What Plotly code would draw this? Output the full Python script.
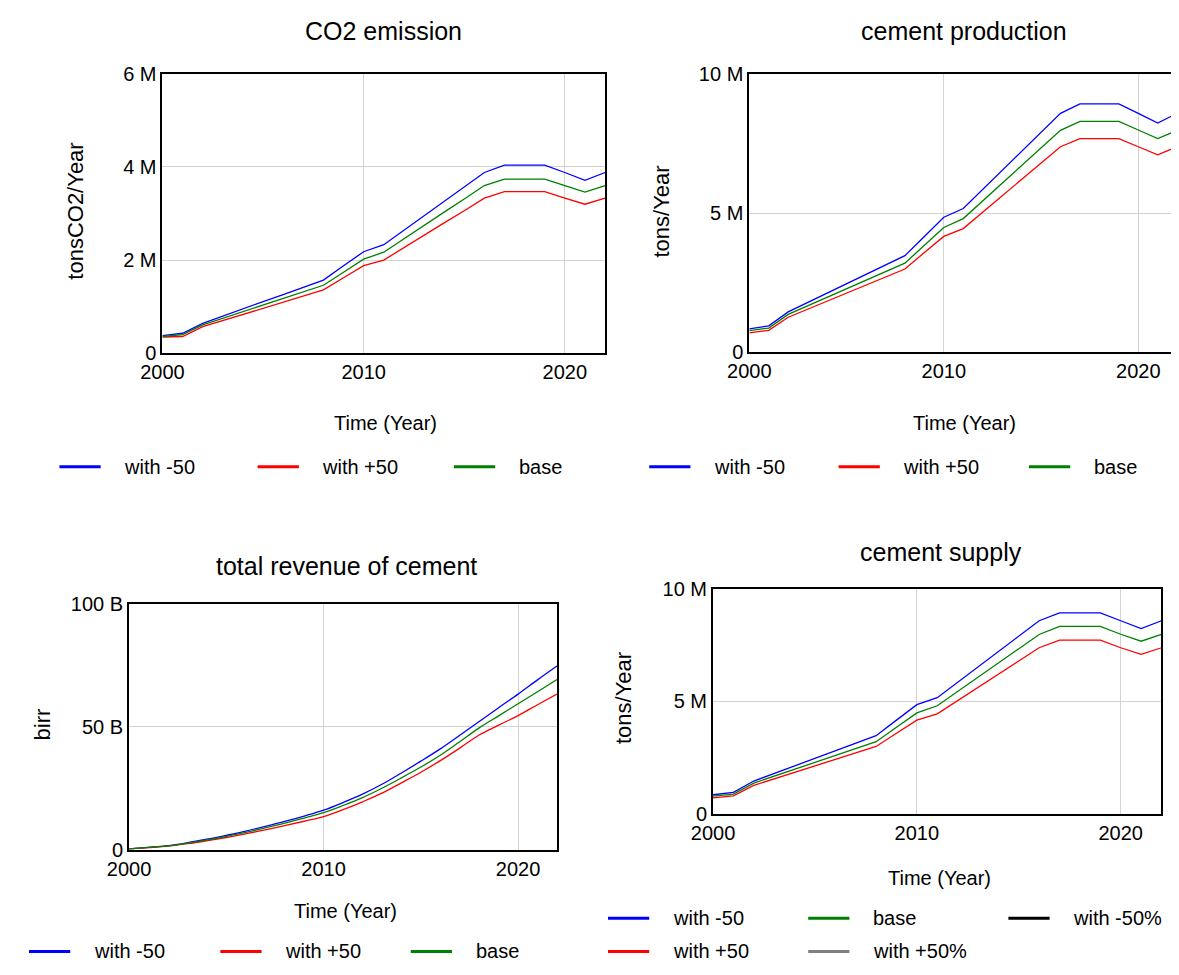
import plotly.graph_objects as go

W, H = 1179, 975
PAGE_OFFSET = 8  # default body margin of the html page

years = list(range(2000, 2023))

# CO2 emission (million tonsCO2/Year)
co2_minus50 = [0.38, 0.43, 0.64, 0.80, 0.95, 1.11, 1.26, 1.42, 1.57, 1.88, 2.18, 2.33, 2.64, 2.95, 3.26, 3.57, 3.88, 4.04, 4.04, 4.04, 3.88, 3.71, 3.88]
co2_base = [0.36, 0.40, 0.61, 0.75, 0.89, 1.03, 1.17, 1.32, 1.46, 1.74, 2.02, 2.17, 2.46, 2.74, 3.03, 3.31, 3.60, 3.74, 3.74, 3.74, 3.60, 3.46, 3.60]
co2_plus50 = [0.35, 0.36, 0.57, 0.70, 0.83, 0.96, 1.10, 1.23, 1.36, 1.62, 1.88, 2.00, 2.27, 2.53, 2.80, 3.06, 3.33, 3.47, 3.47, 3.47, 3.33, 3.20, 3.33]

# cement production (million tons/Year)
prod_minus50 = [0.84, 0.95, 1.45, 1.79, 2.12, 2.46, 2.80, 3.13, 3.47, 4.16, 4.85, 5.16, 5.84, 6.53, 7.21, 7.90, 8.58, 8.92, 8.92, 8.92, 8.58, 8.23, 8.58]
prod_base = [0.78, 0.87, 1.36, 1.67, 1.98, 2.28, 2.59, 2.90, 3.20, 3.84, 4.48, 4.80, 5.43, 6.07, 6.70, 7.34, 7.97, 8.29, 8.29, 8.29, 7.98, 7.67, 7.97]
prod_plus50 = [0.70, 0.79, 1.26, 1.55, 1.84, 2.13, 2.41, 2.70, 2.99, 3.58, 4.16, 4.44, 5.03, 5.62, 6.21, 6.79, 7.38, 7.67, 7.67, 7.67, 7.38, 7.09, 7.38]

# total revenue of cement (billion birr)
rev_minus50 = [0.4, 1.0, 1.7, 2.9, 4.3, 5.9, 7.6, 9.5, 11.5, 13.7, 16.1, 19.2, 22.6, 26.6, 31.2, 36.0, 41.0, 46.5, 52.1, 57.7, 63.2, 69.0, 74.6]
rev_base = [0.4, 1.0, 1.6, 2.7, 4.0, 5.5, 7.1, 8.9, 10.8, 12.9, 15.1, 18.0, 21.2, 25.0, 29.2, 33.6, 38.4, 43.9, 49.5, 54.4, 59.3, 64.2, 69.1]
rev_plus50 = [0.4, 0.9, 1.5, 2.5, 3.7, 5.0, 6.5, 8.1, 9.8, 11.6, 13.5, 16.3, 19.5, 23.0, 27.2, 31.5, 36.2, 41.3, 46.6, 50.6, 54.5, 58.9, 63.2]

# cement supply (million tons/Year)
sup_minus50 = [0.84, 0.95, 1.45, 1.79, 2.12, 2.46, 2.80, 3.13, 3.47, 4.16, 4.85, 5.16, 5.84, 6.53, 7.21, 7.90, 8.58, 8.93, 8.93, 8.93, 8.58, 8.23, 8.58]
sup_base = [0.78, 0.87, 1.36, 1.67, 1.98, 2.28, 2.59, 2.90, 3.20, 3.84, 4.48, 4.80, 5.43, 6.07, 6.70, 7.34, 7.97, 8.33, 8.33, 8.33, 7.98, 7.67, 7.97]
sup_plus50 = [0.70, 0.79, 1.26, 1.55, 1.84, 2.13, 2.41, 2.70, 2.99, 3.58, 4.16, 4.44, 5.03, 5.62, 6.21, 6.79, 7.38, 7.72, 7.72, 7.72, 7.38, 7.09, 7.38]

x_ticks = [2000, 2010, 2020]
x_tick_text = ["2000", "2010", "2020"]

BLUE, RED, GREEN, BLACK, GRAY = "#0000ff", "#ff0000", "#008000", "#000000", "#808080"
FONT = "Liberation Sans, Arial, sans-serif"

# panel geometry in page pixels: (left, right, top, bottom)
panels = [
    dict(px=(143, 594, 64, 350), title="CO2 emission", title_xy=(368, 20),
         ytitle="tonsCO2/Year", ytitle_xy=(54, 205), xtitle_xy=(370, 421),
         yrange=[0, 6], yticks=[0, 2, 4, 6], yticktext=["0", "2 M", "4 M", "6 M"],
         series=[(co2_minus50, BLUE), (co2_plus50, RED), (co2_base, GREEN)], shape="linear"),
    dict(px=(741, 1177, 64, 349), title="cement production", title_xy=(960, 20),
         ytitle="tons/Year", ytitle_xy=(652, 205), xtitle_xy=(960, 421),
         yrange=[0, 10], yticks=[0, 5, 10], yticktext=["0", "5 M", "10 M"],
         series=[(prod_minus50, BLUE), (prod_plus50, RED), (prod_base, GREEN)], shape="linear"),
    dict(px=(109, 545, 606, 858), title="total revenue of cement", title_xy=(331, 568),
         ytitle="birr", ytitle_xy=(21, 730), xtitle_xy=(330, 921),
         yrange=[0, 100], yticks=[0, 50, 100], yticktext=["0", "50 B", "100 B"],
         series=[(rev_minus50, BLUE), (rev_plus50, RED), (rev_base, GREEN)], shape="spline"),
    dict(px=(704, 1161, 591, 821), title="cement supply", title_xy=(936, 553),
         ytitle="tons/Year", ytitle_xy=(613, 703), xtitle_xy=(935, 887),
         yrange=[0, 10], yticks=[0, 5, 10], yticktext=["0", "5 M", "10 M"],
         series=[(sup_minus50, BLUE), (sup_plus50, RED), (sup_base, GREEN)], shape="linear"),
]

legends = [
    (466, [(38, "with -50", BLUE), (240, "with +50", RED), (440, "base", GREEN)]),
    (466, [(639, "with -50", BLUE), (832, "with +50", RED), (1026, "base", GREEN)]),
    (962, [(7, "with -50", BLUE), (202, "with +50", RED), (396, "base", GREEN)]),
    (928, [(597, "with -50", BLUE), (801, "base", GREEN), (1005, "with -50%", BLACK)]),
    (962, [(597, "with +50", RED), (801, "with +50%", GRAY)]),
]


def fx(p):
    return (p - PAGE_OFFSET) / W


def fy(p):
    return 1 - (p - PAGE_OFFSET) / H


fig = go.Figure()
annotations = []
shapes = []
layout = {}

for i, p in enumerate(panels):
    n = "" if i == 0 else str(i + 1)
    l, r, t, b = p["px"]
    xa = dict(domain=[fx(l), fx(r)], range=[2000, 2022], tickvals=x_ticks, ticktext=x_tick_text,
              showgrid=True, gridcolor="#d3d3d3", gridwidth=1, zeroline=False,
              showline=True, linecolor="black", linewidth=2, mirror=True, ticks="",
              tickfont=dict(size=20, color="black", family=FONT), anchor="y" + n)
    ya = dict(domain=[fy(b), fy(t)], range=p["yrange"], tickvals=p["yticks"], ticktext=p["yticktext"],
              showgrid=True, gridcolor="#d3d3d3", gridwidth=1, zeroline=False,
              showline=True, linecolor="black", linewidth=2, mirror=True, ticks="",
              tickfont=dict(size=20, color="black", family=FONT), anchor="x" + n)
    layout["xaxis" + n] = xa
    layout["yaxis" + n] = ya
    for vals, col in p["series"]:
        fig.add_trace(go.Scatter(x=years, y=vals, mode="lines", xaxis="x" + n, yaxis="y" + n,
                                 line=dict(color=col, width=1.3, shape=p["shape"]),
                                 showlegend=False, hoverinfo="skip"))
    annotations.append(dict(text=p["title"], x=fx(p["title_xy"][0]), y=fy(p["title_xy"][1]),
                            xref="paper", yref="paper", showarrow=False, xanchor="center", yanchor="middle",
                            font=dict(size=25, color="black", family=FONT)))
    annotations.append(dict(text="Time (Year)", x=fx(p["xtitle_xy"][0]), y=fy(p["xtitle_xy"][1]),
                            xref="paper", yref="paper", showarrow=False, xanchor="center", yanchor="middle",
                            font=dict(size=20, color="black", family=FONT)))
    annotations.append(dict(text=p["ytitle"], x=fx(p["ytitle_xy"][0]), y=fy(p["ytitle_xy"][1]),
                            xref="paper", yref="paper", showarrow=False, xanchor="center", yanchor="middle",
                            textangle=-90, font=dict(size=22, color="black", family=FONT)))

for ypix, items in legends:
    for x0, label, col in items:
        shapes.append(dict(type="line", xref="paper", yref="paper", x0=fx(x0), x1=fx(x0 + 42),
                           y0=fy(ypix), y1=fy(ypix), line=dict(color=col, width=3)))
        annotations.append(dict(text=label, x=fx(x0 + 64), y=fy(ypix), xref="paper", yref="paper",
                                showarrow=False, xanchor="left", yanchor="middle",
                                font=dict(size=20, color="black", family=FONT)))

fig.update_layout(width=W, height=H, margin=dict(l=0, r=0, t=0, b=0),
                  paper_bgcolor="white", plot_bgcolor="white", showlegend=False,
                  annotations=annotations, shapes=shapes, **layout)

fig.write_html("out.html")
